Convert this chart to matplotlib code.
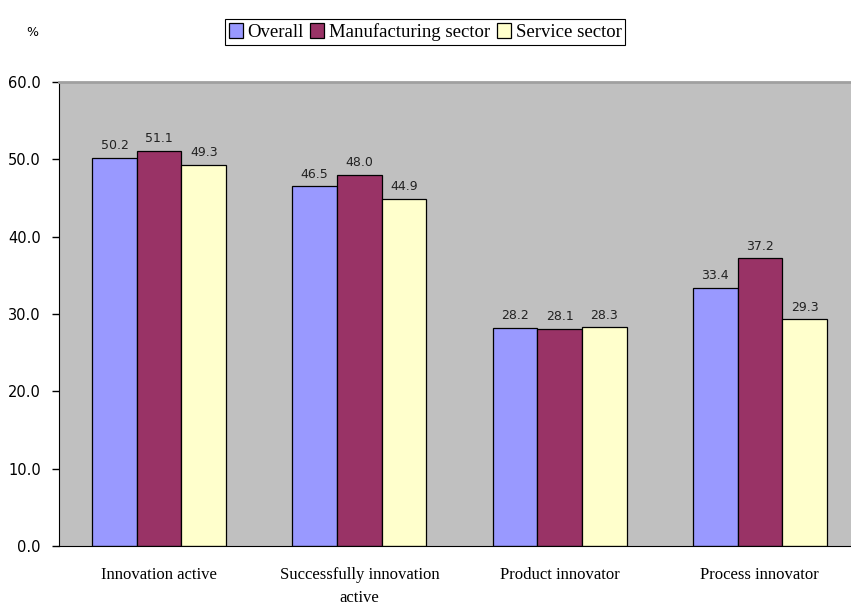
import matplotlib.pyplot as plt
import numpy as np

categories = ['Innovation active', 'Successfully innovation\nactive',
              'Product innovator', 'Process innovator']
series_names = ['Overall', 'Manufacturing sector', 'Service sector']
overall = [50.2, 46.5, 28.2, 33.4]
manufacturing = [51.1, 48.0, 28.1, 37.2]
service = [49.3, 44.9, 28.3, 29.3]
y_ticks = [0, 10, 20, 30, 40, 50, 60]

colors = ['#9999FF', '#993366', '#FFFFCC']
serif = 'Liberation Serif'

fig = plt.figure(figsize=(8.51, 6.06), dpi=100)
ax = fig.add_axes([59 / 851, 60 / 606, 801 / 851, 464 / 606])
ax.set_facecolor('#C0C0C0')

x = np.arange(len(categories))
width = 0.223
for i, (vals, name) in enumerate(zip([overall, manufacturing, service], series_names)):
    pos = x + (i - 1) * width
    bars = ax.bar(pos, vals, width, color=colors[i], edgecolor='black',
                  linewidth=0.9, label=name)
    for xb, v in zip(pos, vals):
        ax.annotate(f'{v:.1f}', (xb, v), xytext=(0, 4), textcoords='offset points',
                    ha='center', va='bottom', fontsize=9, color='#222222')

ax.set_xlim(-0.5, len(categories) - 0.5)
ax.set_ylim(0, 60)
ax.set_yticks(y_ticks)
ax.set_yticklabels([f'{t:.1f}' for t in y_ticks], fontsize=10.5)
ax.set_xticks(x)
ax.set_xticklabels(categories, fontfamily=serif, fontsize=12, linespacing=1.6)
ax.tick_params(axis='x', length=0, pad=15)
ax.tick_params(axis='y', direction='out', length=5, width=1, pad=8)

ax.spines['left'].set_color('black')
ax.spines['bottom'].set_color('black')
ax.spines['top'].set_color('#A0A0A0')
ax.spines['top'].set_linewidth(2)
ax.spines['right'].set_visible(False)

fig.text(32 / 851, 1 - 32 / 606, '%', fontsize=9, ha='center', va='center')

leg = fig.legend(loc='center', bbox_to_anchor=(425 / 851, 1 - 32 / 606), ncol=3,
                 frameon=True, fancybox=False, edgecolor='black', framealpha=1,
                 handlelength=0.75, handleheight=0.8, handletextpad=0.25,
                 columnspacing=0.35, borderpad=0.2, borderaxespad=0,
                 prop={'family': serif, 'size': 13.5})
leg.get_frame().set_linewidth(0.8)

fig.savefig('out.png', dpi=100)
